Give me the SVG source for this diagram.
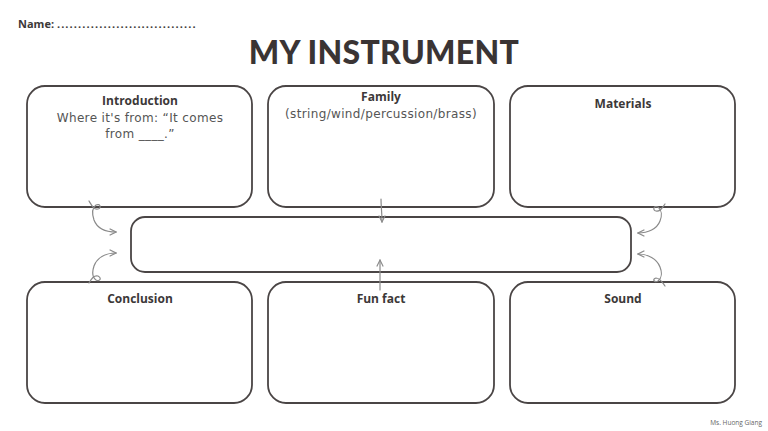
<svg xmlns="http://www.w3.org/2000/svg" width="768" height="431" viewBox="0 0 768 431">
<defs>
<style>
.box{fill:#fff;stroke:#4a4545;stroke-width:1.8}
.h{font-family:"Open Sans","Liberation Sans",sans-serif;font-weight:700;font-size:12px;fill:#3c3838;text-anchor:middle}
.t{font-family:"DejaVu Sans","Liberation Sans",sans-serif;font-size:12px;letter-spacing:0.35px;fill:#555;text-anchor:middle}
.c{fill:none;stroke:#8a8a8a;stroke-width:1.2;stroke-linecap:round}
</style>
<marker id="ah" viewBox="0 0 10 10" refX="9" refY="5" markerWidth="8" markerHeight="8" markerUnits="userSpaceOnUse" orient="auto">
<path d="M1,1 L9,5 L1,9" fill="none" stroke="#8a8a8a" stroke-width="1.4"/>
</marker>
</defs>
<rect width="768" height="431" fill="#fff"/>
<text x="18" y="28" font-family="'Open Sans','Liberation Sans',sans-serif" font-weight="700" font-size="11" fill="#3c3838">Name: <tspan letter-spacing="1.1">.................................</tspan></text>
<text x="384" y="64" text-anchor="middle" font-family="Lato,'Liberation Sans',sans-serif" font-weight="900" font-size="32" letter-spacing="0.3" fill="#3a3434">MY INSTRUMENT</text>
<g id="introduction"><rect class="box" x="27" y="86" width="225" height="121" rx="18"/>
<text class="h" x="140" y="105">Introduction</text>
<text class="t" x="140" y="122">Where it's from: “It comes</text>
<text class="t" x="140" y="138">from ____.”</text></g>
<g id="family"><rect class="box" x="268" y="86" width="226" height="121" rx="18"/>
<text class="h" x="381" y="101">Family</text>
<text class="t" x="381" y="118">(string/wind/percussion/brass)</text></g>
<g id="materials"><rect class="box" x="510" y="86" width="225" height="121" rx="18"/>
<text class="h" x="623" y="108">Materials</text></g>
<g id="center"><rect class="box" x="131" y="217" width="500" height="55" rx="14"/></g>
<g id="conclusion"><rect class="box" x="27" y="282" width="225" height="121" rx="18"/>
<text class="h" x="140" y="303">Conclusion</text></g>
<g id="funfact"><rect class="box" x="268" y="282" width="226" height="121" rx="18"/>
<text class="h" x="381" y="303">Fun fact</text></g>
<g id="sound"><rect class="box" x="510" y="282" width="225" height="121" rx="18"/>
<text class="h" x="623" y="303">Sound</text></g>
<g id="connectors">
<path class="c" d="M89,201 C92,206 94,210 98,209 C102,208 100,203 96,205 C92,208 92,214 94,220 C97,228 105,232 116,232" marker-end="url(#ah)"/>
<path class="c" d="M89,283 C92,278 94,275 98,276 C102,278 100,282 96,280 C92,277 92,272 94,266 C97,258 105,253 116,253" marker-end="url(#ah)"/>
<path class="c" d="M665,204 C662,208 660,212 656,211 C652,210 654,205 658,207 C662,210 662,216 660,221 C657,229 648,233 638,233" marker-end="url(#ah)"/>
<path class="c" d="M665,286 C662,282 660,278 656,278 C652,279 654,283 658,281 C662,278 662,272 660,267 C657,259 648,254 638,254" marker-end="url(#ah)"/>
<path class="c" d="M381,199 C381,206 382,213 382,222" marker-end="url(#ah)"/>
<path class="c" d="M380,290 C380,282 380,272 380,260" marker-end="url(#ah)"/>
</g>
<text x="762" y="425" text-anchor="end" font-family="'Open Sans','Liberation Sans',sans-serif" font-size="6.5" fill="#666">Ms. Huong Giang</text>
</svg>
